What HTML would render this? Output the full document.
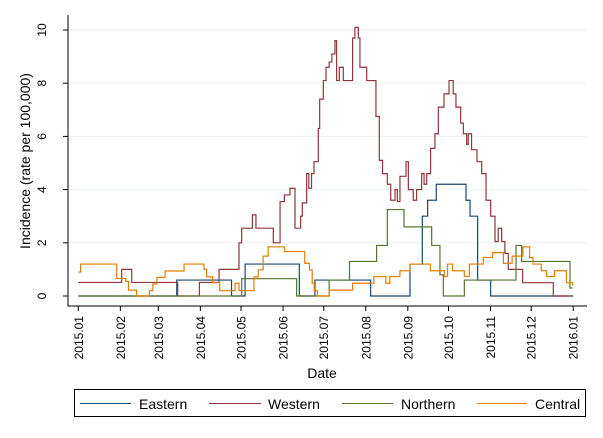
<!DOCTYPE html>
<html><head><meta charset="utf-8">
<style>
body{margin:0;background:#fff;}
svg{display:block;font-family:"Liberation Sans",Arial,sans-serif;}
</style></head>
<body>
<svg id="chart" width="603" height="438" viewBox="0 0 603 438">
<rect x="0" y="0" width="603" height="438" fill="#ffffff"/>
<g id="grid"></g>
<g id="series"></g>
<g id="axes"></g>
<text x="0" y="0" transform="translate(30,161) rotate(-90)" text-anchor="middle" font-size="14" fill="#000">Incidence (rate per 100,000)</text>
<text x="322" y="378" text-anchor="middle" font-size="14" fill="#000">Date</text>
<g>
<rect x="74.5" y="389.5" width="511" height="27" fill="#fff" stroke="#000" stroke-width="1"/>
<g><line x1="80" y1="403.5" x2="131" y2="403.5" stroke="#1a476f" stroke-width="1"/><text x="139" y="409" font-size="14">Eastern</text></g>
<g><line x1="209" y1="403.5" x2="261" y2="403.5" stroke="#90353b" stroke-width="1"/><text x="268" y="409" font-size="14">Western</text></g>
<g><line x1="342" y1="403.5" x2="393" y2="403.5" stroke="#55752f" stroke-width="1"/><text x="401" y="409" font-size="14">Northern</text></g>
<g><line x1="477" y1="403.5" x2="527" y2="403.5" stroke="#e37e00" stroke-width="1"/><text x="535" y="409" font-size="14">Central</text></g>
</g>
</svg>
<script>
const xTickDays = [0,31,59,90,120,151,181,212,243,273,304,334,365];
const xTickLabels = ["2015.01","2015.02","2015.03","2015.04","2015.05","2015.06","2015.07","2015.08","2015.09","2015.10","2015.11","2015.12","2016.01"];
const yTicks = [0,2,4,6,8,10];

const easternDays = [0,72.6,113,123,163,174.5,215.6,244.6,253.7,257.6,264,285.9,288.9,294.5,304.1,365];
const easternVals = [0,0.6,0,1.2,0,0.6,0,1.2,3.0,3.6,4.2,3.6,3.0,0.6,0,0];

const westernDays = [0,32,39.4,73.3,89.3,103.8,118.5,120.5,128.4,131,143.8,148.8,152,156.1,159.8,164,165.2,168.4,170,172,173.8,177,178,180.7,182.7,185,187,189.3,190.5,192.5,195.4,202.3,204,206.5,207.7,212.7,219.5,222,224.4,227.9,230.4,233.6,235.3,237.2,241.7,243.4,247,249.5,253.2,255,256.9,259.8,263,265.5,269.7,273.4,276.5,278.5,282,284,286.4,287.6,290,294,297.5,300.7,304.1,307.3,309.7,312.2,314.6,317.1,327.7,350.3,364.5];
const westernVals = [0.51,1.0,0.51,0,0.51,1.0,2.0,2.55,3.05,2.55,2.0,3.55,3.8,4.05,2.55,3.0,3.5,4.6,4.05,4.6,5.05,6.3,7.4,8.1,8.6,8.8,9.1,9.6,8.1,8.6,8.1,9.7,10.1,9.7,8.6,8.1,6.75,5.1,4.6,4.2,3.6,4.0,3.55,4.5,5.05,4.0,3.6,4.0,4.6,4.2,4.6,5.55,6.1,7.1,7.6,8.1,7.6,7.1,6.5,6.1,5.7,6.1,5.5,5.05,4.6,3.6,3.0,2.05,2.55,2.05,1.6,1.0,0.5,0,0];

const northernDays = [0,120.5,161,185,200,220,227.9,240.2,260.6,266.7,269.2,284.7,322.8,327,362.6,364.5];
const northernVals = [0,0.65,0,0.6,1.3,1.9,3.25,2.6,1.9,0.8,0,0.6,1.9,1.3,0.3,0.3];

const centralDays = [0,1.7,28.3,35,37,43,52.4,55,58,64,78,92.7,94.7,99,104.3,115.6,118.5,129.5,132.7,136.3,140,152,167,170.5,172.5,174,176.3,185,202.3,218,226.8,229.8,237.2,244.6,259.6,270,272.3,276,284.7,288.4,298.7,305.5,313.5,319.9,327.9,332.8,335.3,341.4,345.4,351.1,360,364.5];
const centralVals = [0.9,1.2,0.66,0.55,0.22,0,0.2,0.45,0.7,0.94,1.2,1.0,0.72,0.5,0.2,0.48,0.2,0.72,0.98,1.5,1.85,1.67,1.23,0.98,0.48,0.2,0,0.22,0.48,0.73,0.48,0.73,0.95,1.2,0.95,0.73,1.2,0.95,0.73,1.2,1.45,1.63,1.23,1.5,1.85,1.45,1.2,0.95,0.73,0.95,0.5,0.4];

const NS = "http://www.w3.org/2000/svg";
const X0 = 78.3, PXD = 1.356, Y0 = 296, PXV = 26.6;
function xS(d){ return X0 + d*PXD; }
function yS(v){ return Y0 - v*PXV; }
function mk(tag, attrs, parent){
  const el = document.createElementNS(NS, tag);
  for (const k in attrs) el.setAttribute(k, attrs[k]);
  parent.appendChild(el);
  return el;
}
const grid = document.getElementById('grid');
const axes = document.getElementById('axes');
const series = document.getElementById('series');

yTicks.forEach(v => {
  if (v > 0) {
    const g = mk('line', {x1:68, x2:587, y1:yS(v), y2:yS(v), stroke:'#eaf2f3', 'stroke-width':1}, grid);
    
    
  }
  const t = mk('line', {x1:63, x2:68, y1:yS(v), y2:yS(v), stroke:'#000', 'stroke-width':1}, axes);
  
  
  const lb = mk('text', {transform:`translate(46,${yS(v)}) rotate(-90)`, 'text-anchor':'middle', 'font-size':12}, axes);
  lb.textContent = String(v);
  
  
});

const yAxis = mk('line', {x1:68, x2:68, y1:15, y2:306.5, stroke:'#000', 'stroke-width':1}, axes);


const xAxis = mk('line', {x1:67.5, x2:587, y1:306, y2:306, stroke:'#000', 'stroke-width':1}, axes);



xTickDays.forEach((d, i) => {
  const x = xS(d);
  const t = mk('line', {x1:x, x2:x, y1:306, y2:311, stroke:'#000', 'stroke-width':1}, axes);
  
  
  const lb = mk('text', {transform:`translate(${x+4.5},316) rotate(-90)`, 'text-anchor':'end', 'font-size':12}, axes);
  lb.textContent = xTickLabels[i];
  
  
});

function stepPath(days, vals){
  let d = `M${xS(days[0]).toFixed(2)},${yS(vals[0]).toFixed(2)}`;
  for (let i = 1; i < days.length; i++){
    d += ` H${xS(days[i]).toFixed(2)} V${yS(vals[i]).toFixed(2)}`;
  }
  return d;
}
const defs = [
  ['eastern', easternDays, easternVals, '#1a476f'],
  ['western', westernDays, westernVals, '#90353b'],
  ['northern', northernDays, northernVals, '#55752f'],
  ['central', centralDays, centralVals, '#e37e00']
];
defs.forEach(s => {
  const p = mk('path', {d:stepPath(s[1], s[2]), fill:'none', stroke:s[3], 'stroke-width':1.2}, series);
  
  
});
</script>
</body></html>
